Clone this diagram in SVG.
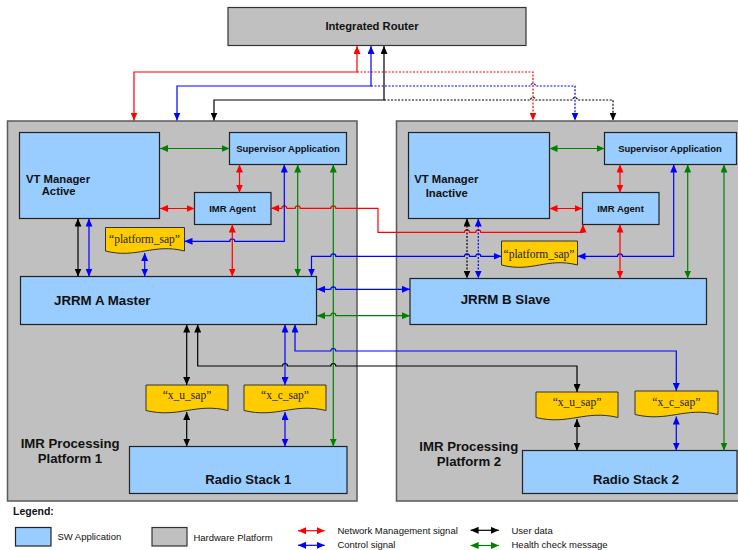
<svg xmlns="http://www.w3.org/2000/svg" width="738" height="550" viewBox="0 0 738 550">
<style>
.hw{fill:#c0c0c0;stroke:#5a5a5a;stroke-width:1.5}
.rt{fill:#c0c0c0;stroke:#333;stroke-width:1.2}
.sw{fill:#99ccff;stroke:#222;stroke-width:1.2}
.doc{fill:#ffcc00;stroke:#333;stroke-width:1}
.t{font-family:"Liberation Sans",Arial,sans-serif;font-weight:bold;fill:#111}
.s{font-family:"Liberation Serif","Times New Roman",serif;font-size:11.5px;fill:#222;text-anchor:middle}
.m{text-anchor:middle}
.lg{font-family:"Liberation Sans",Arial,sans-serif;font-size:9.5px;fill:#111}
.c{fill:none;stroke-width:1.2}
.r{stroke:#ff0000;marker-start:url(#ar);marker-end:url(#ar)}
.b{stroke:#0000ff;marker-start:url(#ab);marker-end:url(#ab)}
.k{stroke:#000;marker-start:url(#ak);marker-end:url(#ak)}
.g{stroke:#008000;marker-start:url(#ag);marker-end:url(#ag)}
.e{marker-start:none}
.d{stroke-dasharray:2 1.5}
</style>
<defs>
<marker id="ar" viewBox="0 0 8 7" refX="8" refY="3.5" markerWidth="8" markerHeight="7" markerUnits="userSpaceOnUse" orient="auto-start-reverse"><path d="M0,0 L8,3.5 L0,7 z" fill="#ff0000"/></marker>
<marker id="ab" viewBox="0 0 8 7" refX="8" refY="3.5" markerWidth="8" markerHeight="7" markerUnits="userSpaceOnUse" orient="auto-start-reverse"><path d="M0,0 L8,3.5 L0,7 z" fill="#0000ff"/></marker>
<marker id="ak" viewBox="0 0 8 7" refX="8" refY="3.5" markerWidth="8" markerHeight="7" markerUnits="userSpaceOnUse" orient="auto-start-reverse"><path d="M0,0 L8,3.5 L0,7 z" fill="#000"/></marker>
<marker id="ag" viewBox="0 0 8 7" refX="8" refY="3.5" markerWidth="8" markerHeight="7" markerUnits="userSpaceOnUse" orient="auto-start-reverse"><path d="M0,0 L8,3.5 L0,7 z" fill="#008000"/></marker>
</defs>
<rect width="738" height="550" fill="#fff"/>

<g id="platform1"><rect class="hw" x="7.5" y="121" width="349.5" height="380"/>
<text class="t" font-size="13.2" x="20.7" y="447.7">IMR Processing</text>
<text class="t" font-size="13.2" x="37.7" y="463.3">Platform 1</text></g>
<g id="platform2"><rect class="hw" x="396.5" y="121" width="360" height="380"/>
<text class="t" font-size="13.2" x="419.3" y="451">IMR Processing</text>
<text class="t" font-size="13.2" x="436.7" y="466">Platform 2</text></g>

<g id="router"><rect class="rt" x="228" y="7.5" width="298" height="38"/>
<text class="t m" font-size="11.2" x="372" y="30">Integrated Router</text></g>

<g id="vtA"><rect class="sw" x="19.5" y="132.5" width="140" height="86"/>
<text class="t" font-size="11.3" x="26" y="182.5">VT Manager</text>
<text class="t" font-size="11.3" x="41.7" y="195">Active</text></g>
<g id="supA"><rect class="sw" x="229.5" y="132.5" width="117" height="32"/>
<text class="t m" font-size="9.5" x="288" y="152">Supervisor Application</text></g>
<g id="imrA"><rect class="sw" x="194.5" y="192.5" width="76.5" height="32"/>
<text class="t m" font-size="9.5" x="232.5" y="212">IMR Agent</text></g>
<g id="psapA"><path class="doc" d="M105.5,227.5 H184.5 V251 C152.9,243 137.1,259 105.5,251 Z"/>
<text class="s" x="144.5" y="242.7">“platform_sap”</text></g>
<g id="jrrmA"><rect class="sw" x="20.5" y="276.5" width="296" height="48"/>
<text class="t" font-size="13.3" x="54" y="305">JRRM A Master</text></g>
<g id="xuA"><path class="doc" d="M146,385 H228 V410.5 C195.2,402.5 178.8,418.5 146,410.5 Z"/>
<text class="s" x="187" y="399">“x_u_sap”</text></g>
<g id="xcA"><path class="doc" d="M244,385 H326 V410.5 C293.2,402.5 276.8,418.5 244,410.5 Z"/>
<text class="s" x="285" y="399">“x_c_sap”</text></g>
<g id="radio1"><rect class="sw" x="129.5" y="446.5" width="217.5" height="47"/>
<text class="t m" font-size="13.1" x="248.3" y="484">Radio Stack 1</text></g>

<g id="vtB"><rect class="sw" x="408.5" y="132.5" width="141" height="86"/>
<text class="t" font-size="11.3" x="414.3" y="183.3">VT Manager</text>
<text class="t" font-size="11.3" x="425.7" y="196.7">Inactive</text></g>
<g id="supB"><rect class="sw" x="604.5" y="132.5" width="132" height="32"/>
<text class="t m" font-size="9.5" x="670" y="152">Supervisor Application</text></g>
<g id="imrB"><rect class="sw" x="582.5" y="192.5" width="76.5" height="32"/>
<text class="t m" font-size="9.5" x="620.5" y="212">IMR Agent</text></g>
<g id="psapB"><path class="doc" d="M501.5,241 H577.5 V265 C547.1,257 531.9,273 501.5,265 Z"/>
<text class="s" x="539" y="257.7">“platform_sap”</text></g>
<g id="jrrmB"><rect class="sw" x="410" y="278.5" width="296.5" height="46"/>
<text class="t" font-size="13.3" x="460.7" y="304.3">JRRM B Slave</text></g>
<g id="xuB"><path class="doc" d="M536,392 H618 V417.5 C585.2,409.5 568.8,425.5 536,417.5 Z"/>
<text class="s" x="577" y="406">“x_u_sap”</text></g>
<g id="xcB"><path class="doc" d="M635,391 H718 V414.5 C684.8,406.5 668.2,422.5 635,414.5 Z"/>
<text class="s" x="676.3" y="406">“x_c_sap”</text></g>
<g id="radio2"><rect class="sw" x="522.5" y="450.5" width="214.5" height="43"/>
<text class="t m" font-size="13.1" x="636" y="484">Radio Stack 2</text></g>

<g id="connectors">
<path class="c r" d="M357,46 V72 H134 V120.5"/>
<path class="c r e d" d="M357,72 H533 V120.5"/>
<path class="c b" d="M371,46 V86 H177 V120.5"/>
<path class="c b e d" d="M371,86 H530.5 a2.5,2.5 0 0 1 5,0 H575 V120.5"/>
<path class="c k" d="M384,46 V100 H214 V120.5"/>
<path class="c k e d" d="M384,100 H530.5 a2.5,2.5 0 0 1 5,0 H572.5 a2.5,2.5 0 0 1 5,0 H613 V120.5"/>

<path class="c g" d="M160,148.5 H229.5"/>
<path class="c r" d="M239.5,164.5 V192.5"/>
<path class="c r" d="M160,208.5 H194.5"/>
<path class="c r" d="M271,208.3 H281.8 a2.5,2.5 0 0 1 5,0 H295.2 a2.5,2.5 0 0 1 5,0 H330.8 a2.5,2.5 0 0 1 5,0 H378 V232.3 H464.5 a2.5,2.5 0 0 1 5,0 H475.8 a2.5,2.5 0 0 1 5,0 H583 V224.5"/>
<path class="c b" d="M284.3,164.5 V241.3 H234.8 a2.5,2.5 0 0 0 -5,0 H184.5"/>
<path class="c b" d="M144.7,253 V276.5"/>
<path class="c r" d="M232.3,224.5 V276.5"/>
<path class="c k" d="M78,218.5 V276.5"/>
<path class="c b" d="M89,218.5 V276.5"/>
<path class="c g" d="M297.7,164.5 V276.5"/>
<path class="c g" d="M333.3,164.5 V446.5"/>
<path class="c b" d="M311.5,276.5 V256.3 H330.8 a2.5,2.5 0 0 1 5,0 H464.5 a2.5,2.5 0 0 1 5,0 H475.8 a2.5,2.5 0 0 1 5,0 H501.5"/>
<path class="c b" d="M673.7,164.5 V256.3 H622.5 a2.5,2.5 0 0 0 -5,0 H577.5"/>
<path class="c b" d="M317,289.3 H330.8 a2.5,2.5 0 0 1 5,0 H410"/>
<path class="c g" d="M317,315.7 H330.8 a2.5,2.5 0 0 1 5,0 H410"/>
<path class="c k" d="M186.7,324.5 V385"/>
<path class="c k" d="M197.7,324.5 V366 H282.5 a2.5,2.5 0 0 1 5,0 H330.8 a2.5,2.5 0 0 1 5,0 H577 V392"/>
<path class="c b" d="M285,324.5 V385"/>
<path class="c b" d="M295,324.5 V351 H330.8 a2.5,2.5 0 0 1 5,0 H676.3 V391"/>
<path class="c k" d="M186.7,412 V446.5"/>
<path class="c b" d="M285,412 V446.5"/>

<path class="c g" d="M549.5,148.5 H604.5"/>
<path class="c r" d="M620,164.5 V192.5"/>
<path class="c r" d="M549.5,208.5 H582.5"/>
<path class="c k d" d="M467,218.5 V278.5"/>
<path class="c b d" d="M478.3,218.5 V278.5"/>
<path class="c r" d="M620,224.5 V278.5"/>
<path class="c g" d="M687.7,164.5 V278.5"/>
<path class="c g" d="M724,164.5 V450.5"/>
<path class="c k" d="M577,419 V450.5"/>
<path class="c b" d="M676.3,416.5 V450.5"/>
</g>

<g id="legend">
<text class="t" font-size="10.5" x="13" y="515">Legend:</text>
<rect class="sw" x="15.5" y="527.5" width="35.5" height="18.5"/>
<text class="lg" x="57.4" y="539.5">SW Application</text>
<rect class="rt" x="152" y="527.5" width="35" height="18.5"/>
<text class="lg" x="193.4" y="541">Hardware Platform</text>
<path class="c r" d="M298,530.7 H324.7"/>
<text class="lg" x="337.4" y="534">Network Management signal</text>
<path class="c b" d="M298,545.3 H324.7"/>
<text class="lg" x="337.4" y="548">Control signal</text>
<path class="c k" d="M470.6,530.3 H498.8"/>
<text class="lg" x="511.5" y="533.5">User data</text>
<path class="c g" d="M470.6,545.5 H498.8"/>
<text class="lg" x="511.5" y="548">Health check message</text>
</g>
</svg>
